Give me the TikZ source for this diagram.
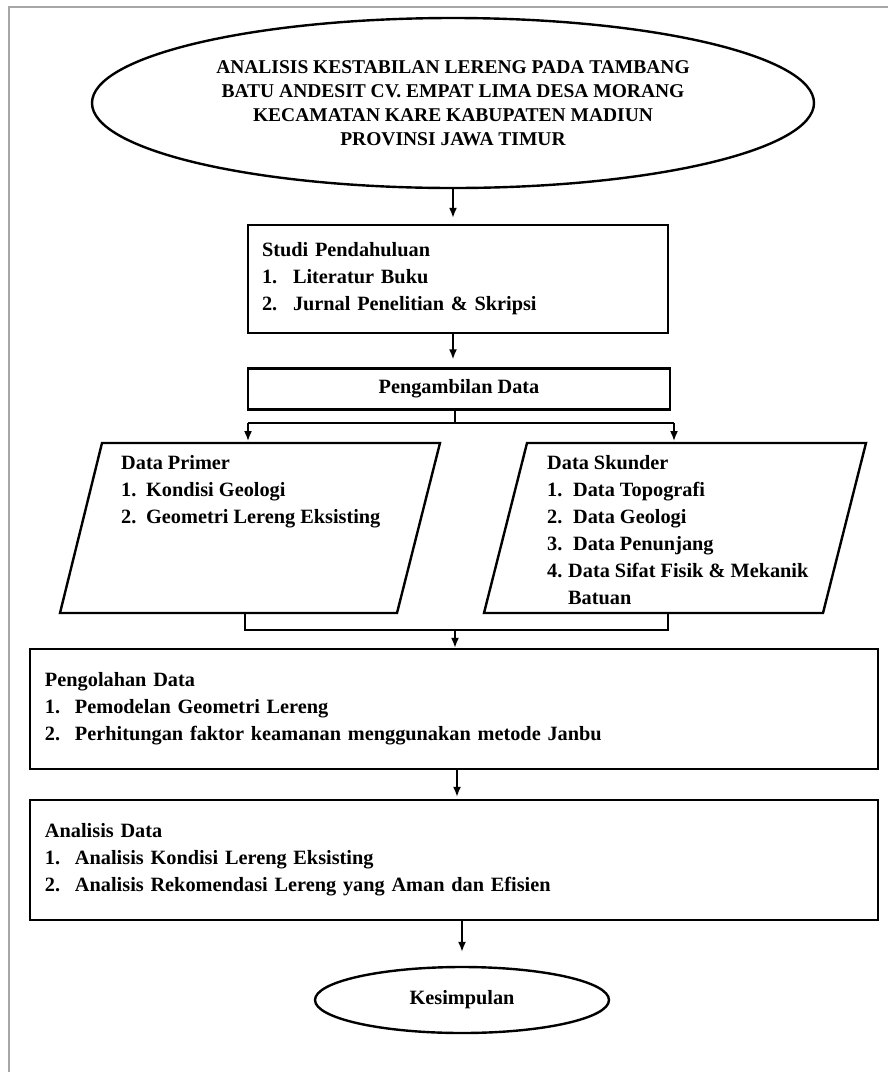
\documentclass[tikz,border=0pt]{standalone}
\usepackage{fontspec}
\setmainfont{Liberation Serif}
\usetikzlibrary{arrows.meta,shapes.geometric}
\newcommand{\itm}[2]{\makebox[#1][l]{#2}}

\begin{document}
\begin{tikzpicture}[x=1pt,y=-1pt,
  font=\fontsize{20.3}{27}\selectfont\bfseries,
  blk/.style={draw,line width=2.4pt,inner sep=0pt},
  lst/.style={align=left,inner sep=0pt},
  arr/.style={-{Latex[length=10pt,width=8pt]},line width=1.6pt},
  lin/.style={line width=1.6pt}]
  \useasboundingbox (0,0) rectangle (888,1072);
  \draw[gray!70,line width=2pt] (9,1072) -- (9,7) -- (888,7);
  \node[blk,ellipse,minimum width=722pt,minimum height=170pt,align=center,
        font=\fontsize{19.5}{24}\selectfont\bfseries] (judul) at (453,103)
       {ANALISIS KESTABILAN LERENG PADA TAMBANG\\BATU ANDESIT CV. EMPAT LIMA DESA MORANG\\KECAMATAN KARE KABUPATEN MADIUN\\PROVINSI JAWA TIMUR};
  \node[blk,minimum width=420pt,minimum height=108pt,inner xsep=14pt,text width=392pt,align=left] (studi) at (458,279)
       {Studi Pendahuluan\\\itm{31pt}{1.}Literatur Buku\\\itm{31pt}{2.}Jurnal Penelitian \& Skripsi};
  \node[blk,minimum width=422pt,minimum height=41pt] (ambil) at (459,389) {Pengambilan Data};
  % data primer / skunder
  \draw[blk] (60,613) -- (102,443) -- (440,443) -- (397,613) -- cycle;
  \node[lst,anchor=north west] (primer) at (121,455)
       {Data Primer\\\itm{25pt}{1.}Kondisi Geologi\\\itm{25pt}{2.}Geometri Lereng Eksisting};
  \draw[blk] (484,613) -- (527,443) -- (866,443) -- (823,613) -- cycle;
  \node[lst,anchor=north west] (skunder) at (547,455)
       {Data Skunder\\\itm{26pt}{1.}Data Topografi\\\itm{26pt}{2.}Data Geologi\\\itm{26pt}{3.}Data Penunjang\\\itm{21pt}{4.}Data Sifat Fisik \& Mekanik\\\hspace*{21pt}Batuan};
  \coordinate (primtop) at (248,443);
  \coordinate (skuntop) at (674,443);
  \coordinate (primbot) at (245,613);
  \coordinate (skunbot) at (668,613);
  \coordinate (cab) at (455,423);
  \coordinate (gab) at (455,630);
  \node[blk,minimum width=848pt,minimum height=120pt,inner xsep=15pt,text width=818pt,align=left] (olah) at (454,709)
       {Pengolahan Data\\\itm{30pt}{1.}Pemodelan Geometri Lereng\\\itm{30pt}{2.}Perhitungan faktor keamanan menggunakan metode Janbu};
  \node[blk,minimum width=848pt,minimum height=120pt,inner xsep=15pt,text width=818pt,align=left] (ana) at (454,860)
       {Analisis Data\\\itm{30pt}{1.}Analisis Kondisi Lereng Eksisting\\\itm{30pt}{2.}Analisis Rekomendasi Lereng yang Aman dan Efisien};
  \node[blk,ellipse,minimum width=294pt,minimum height=66pt] (kes) at (462,1000) {Kesimpulan};
  % connectors
  \draw[arr,shorten >=6pt] (judul.south) -- (judul.south |- studi.north);
  \draw[arr,shorten >=8pt] (studi.south -| judul.south) -- (judul.south |- ambil.north);
  \draw[lin] (ambil.south -| cab) -- (cab);
  \draw[lin] (cab -| primtop) -- (cab -| skuntop);
  \foreach \t in {primtop,skuntop} \draw[arr,shorten >=2pt] (cab -| \t) -- (\t);
  \draw[lin] (primbot) -- (primbot |- gab) -- (skunbot |- gab) -- (skunbot);
  \draw[arr] (gab) -- (gab |- olah.north);
  \draw[arr,shorten >=2pt] ([xshift=3pt]olah.south) -- ([xshift=3pt]ana.north);
  \draw[arr,shorten >=14pt] (kes.north |- ana.south) -- (kes.north);
\end{tikzpicture}
\end{document}
